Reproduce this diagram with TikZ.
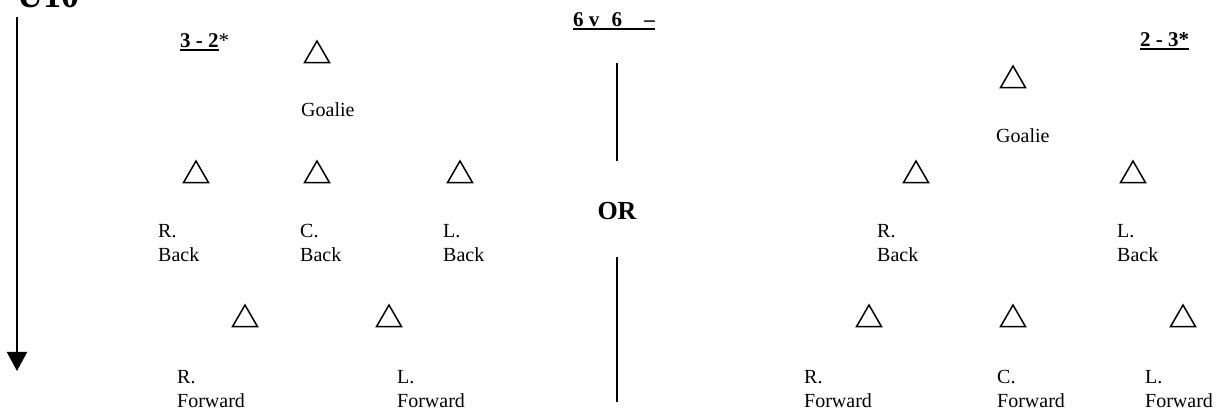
\documentclass[tikz,border=0pt]{standalone}
\usepackage{fontspec}
\setmainfont{Liberation Serif}
\usetikzlibrary{shapes.geometric,arrows.meta}
\newcommand{\ulbar}[1]{\setbox0\hbox{#1}\rlap{\rule[-3pt]{\wd0}{1.8pt}}\box0}

\begin{document}
\begin{tikzpicture}[x=1pt,y=-1pt,
  player/.style={draw,regular polygon,regular polygon sides=3,minimum size=29pt,inner sep=0pt,line width=1.5pt},
  lbl/.style={anchor=base west,inner sep=0pt,align=left,font=\fontsize{20}{24}\selectfont},
  head/.style={anchor=base west,inner sep=0pt,font=\fontsize{21}{24}\selectfont\bfseries}]
\useasboundingbox (0,0) rectangle (1223,411);

% age group and arrow
\node[head,font=\fontsize{36}{40}\selectfont\bfseries] (age) at (17,8) {U10};
\coordinate (arrtop) at (17,17);
\coordinate (arrend) at (17,371);
\draw[line width=2pt,-{Triangle[length=19pt,width=20pt]}] (arrtop) -- (arrend);

% 3 - 2 side
\node[head] (titleL) at (180,48) {\ulbar{3 - 2}{\mdseries*}};
\node[player] (gL) at (317,55.5) {};
\node[lbl] (gLtxt) at (301,117) {Goalie};
\node[player] (rbL) at (196,175.5) {};
\node[player] (cbL) at (317,175.5) {};
\node[player] (lbL) at (460,175.5) {};
\node[lbl] (rbLtxt) at (158,262) {R.\\Back};
\node[lbl] (cbLtxt) at (300,262) {C.\\Back};
\node[lbl] (lbLtxt) at (443,262) {L.\\Back};
\node[player] (rfL) at (245,319.5) {};
\node[player] (lfL) at (389,319.5) {};
\node[lbl] (rfLtxt) at (177,407) {R.\\Forward};
\node[lbl] (lfLtxt) at (397,407) {L.\\Forward};

% middle
\node[head] (title) at (573,27) {\ulbar{6 v\hspace{7pt} 6\hspace{17pt} --}};
\node[anchor=base,inner sep=0pt,font=\fontsize{26}{30}\selectfont\bfseries] (or) at (617,220) {OR};
\coordinate (sepA) at (617,63);
\coordinate (sepB) at (617,161);
\coordinate (sepC) at (617,257);
\coordinate (sepD) at (617,402);
\draw[line width=2pt] (sepA) -- (sepB);
\draw[line width=2pt] (sepC) -- (sepD);

% 2 - 3 side
\node[head] (titleR) at (1140,47) {\ulbar{2 - 3*}};
\node[player] (gR) at (1013,80.5) {};
\node[lbl] (gRtxt) at (996,143) {Goalie};
\node[player] (rbR) at (916,175.5) {};
\node[player] (lbR) at (1133,175.5) {};
\node[lbl] (rbRtxt) at (877,262) {R.\\Back};
\node[lbl] (lbRtxt) at (1117,262) {L.\\Back};
\node[player] (rfR) at (869,319.5) {};
\node[player] (cfR) at (1013,319.5) {};
\node[player] (lfR) at (1183,319.5) {};
\node[lbl] (rfRtxt) at (804,407) {R.\\Forward};
\node[lbl] (cfRtxt) at (997,407) {C.\\Forward};
\node[lbl] (lfRtxt) at (1145,407) {L.\\Forward};
\end{tikzpicture}
\end{document}
